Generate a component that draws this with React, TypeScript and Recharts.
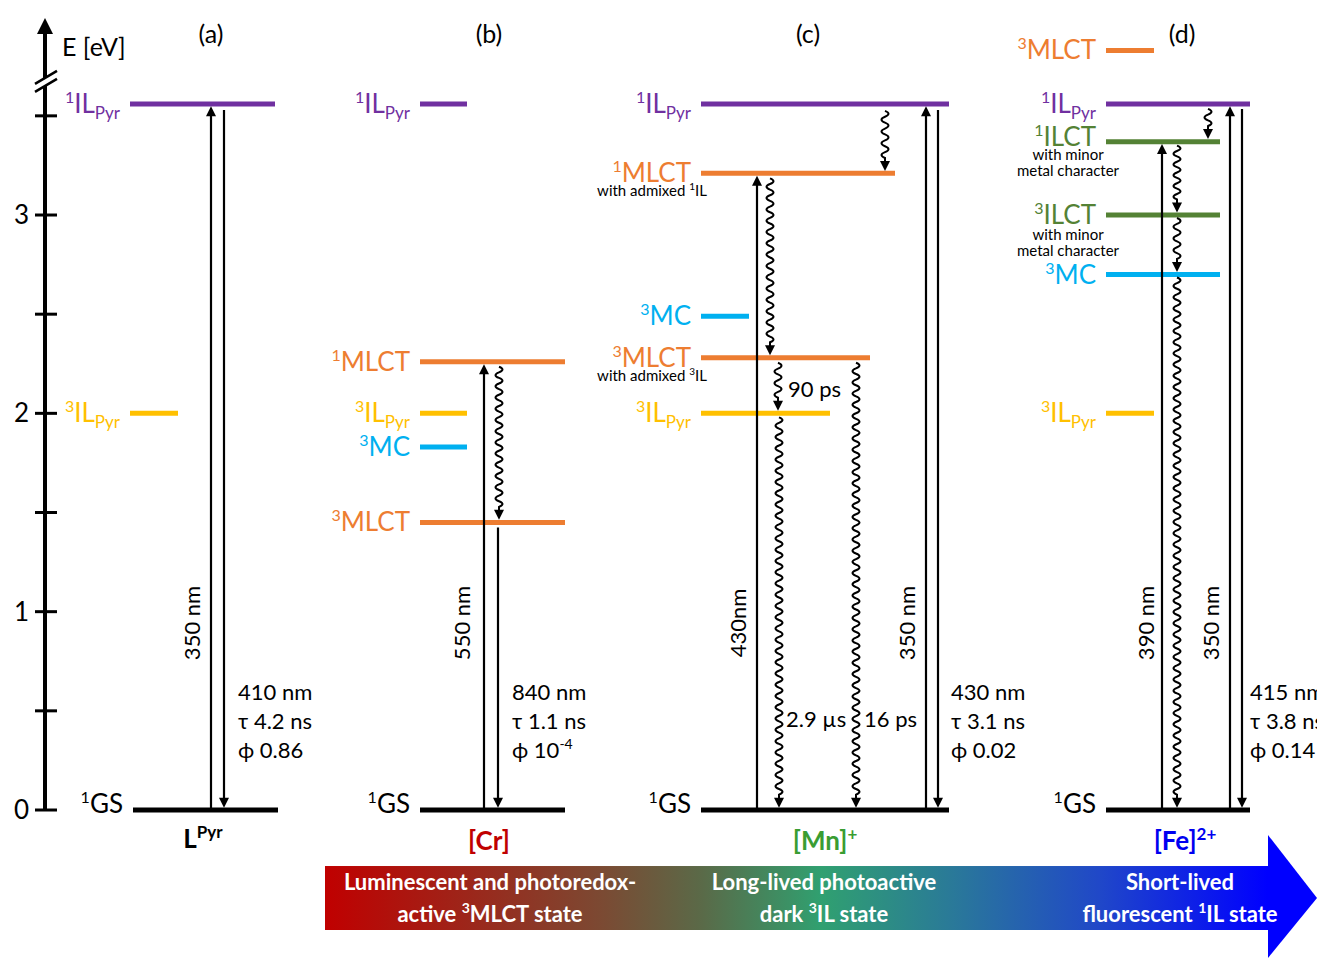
import React from "react";
import { ComposedChart, XAxis, YAxis, ReferenceLine, ReferenceArea, Scatter } from "recharts";

const FONT = "Lato, 'Open Sans', 'DejaVu Sans', sans-serif";

// ---------- DATA (x: horizontal diagram units from the energy axis, y: energy in eV) ----------
const levelsA = [
  { state: "1IL", y: 3.56, x: 85, x2: 230 },
  { state: "3IL", y: 2.0, x: 85, x2: 133 },
  { state: "GS", y: 0, x: 88, x2: 233 },
];
const levelsB = [
  { state: "1IL", y: 3.56, x: 375, x2: 422 },
  { state: "1MLCT", y: 2.26, x: 375, x2: 520 },
  { state: "3IL", y: 2.0, x: 375, x2: 422 },
  { state: "3MC", y: 1.83, x: 375, x2: 422 },
  { state: "3MLCT", y: 1.45, x: 375, x2: 520 },
  { state: "GS", y: 0, x: 375, x2: 520 },
];
const levelsC = [
  { state: "1IL", y: 3.56, x: 656, x2: 904 },
  { state: "1MLCT", y: 3.21, x: 656, x2: 850, note: "admix1" },
  { state: "3MC", y: 2.49, x: 656, x2: 704 },
  { state: "3MLCT", y: 2.28, x: 656, x2: 825, note: "admix3" },
  { state: "3IL", y: 2.0, x: 656, x2: 785 },
  { state: "GS", y: 0, x: 656, x2: 904 },
];
const levelsD = [
  { state: "3MLCT", y: 3.83, x: 1061, x2: 1109 },
  { state: "1IL", y: 3.56, x: 1061, x2: 1205 },
  { state: "1ILCT", y: 3.37, x: 1061, x2: 1175, note: "metal" },
  { state: "3ILCT", y: 3.0, x: 1061, x2: 1175, note: "metal" },
  { state: "3MC", y: 2.7, x: 1061, x2: 1175 },
  { state: "3IL", y: 2.0, x: 1061, x2: 1109 },
  { state: "GS", y: 0, x: 1061, x2: 1205 },
];

const arrowsA = [
  { kind: "up", x: 166, from: 0, to: 3.548 },
  { kind: "down", x: 179, from: 3.53, to: 0.012 },
];
const arrowsB = [
  { kind: "up", x: 439, from: 0, to: 2.248 },
  { kind: "wavy", x: 454, from: 2.235, to: 1.463 },
  { kind: "down", x: 453, from: 1.425, to: 0.012 },
];
const arrowsC = [
  { kind: "wavy", x: 840, from: 3.525, to: 3.222 },
  { kind: "up", x: 712, from: 0, to: 3.198 },
  { kind: "wavy", x: 725, from: 3.185, to: 2.293 },
  { kind: "wavy", x: 733, from: 2.255, to: 2.013 },
  { kind: "wavy", x: 734, from: 1.98, to: 0.012 },
  { kind: "wavy", x: 811, from: 2.255, to: 0.012 },
  { kind: "up", x: 881, from: 0, to: 3.548 },
  { kind: "down", x: 893, from: 3.53, to: 0.012 },
];
const arrowsD = [
  { kind: "up", x: 1117, from: 0, to: 3.358 },
  { kind: "wavy", x: 1163, from: 3.535, to: 3.383 },
  { kind: "wavy", x: 1132, from: 3.35, to: 3.013 },
  { kind: "wavy", x: 1132, from: 2.985, to: 2.713 },
  { kind: "wavy", x: 1132, from: 2.685, to: 0.012 },
  { kind: "up", x: 1185, from: 0, to: 3.548 },
  { kind: "down", x: 1197, from: 3.535, to: 0.012 },
];

const energyTicks = [0, 0.5, 1, 1.5, 2, 2.5, 3, 3.5];
const axisTitle = [{ x: 17, y: 3.8, text: "E [eV]" }];
const panelTitles = [
  { x: 166, y: 3.867, text: "(a)" },
  { x: 444, y: 3.867, text: "(b)" },
  { x: 763, y: 3.867, text: "(c)" },
  { x: 1137, y: 3.867, text: "(d)" },
];
const compounds = [
  { x: 158, y: -0.19, name: "L", parts: ["L", "^Pyr"] },
  { x: 444, y: -0.2, name: "Cr", parts: ["[Cr]"] },
  { x: 780, y: -0.2, name: "Mn", parts: ["[Mn]", "^+"] },
  { x: 1140, y: -0.2, name: "Fe", parts: ["[Fe]", "^2+"] },
];
const excitation = [
  { x: 147, y: 0.943, text: "350 nm" },
  { x: 417, y: 0.943, text: "550 nm" },
  { x: 693, y: 0.943, text: "430nm" },
  { x: 862, y: 0.943, text: "350 nm" },
  { x: 1101, y: 0.943, text: "390 nm" },
  { x: 1166, y: 0.943, text: "350 nm" },
];
const emission = [
  { x: 193, y: 0.555, lines: [["410 nm"], ["τ 4.2 ns"], ["ϕ 0.86"]] },
  { x: 467, y: 0.555, lines: [["840 nm"], ["τ 1.1 ns"], ["ϕ 10", "^-4"]] },
  { x: 906, y: 0.555, lines: [["430 nm"], ["τ 3.1 ns"], ["ϕ 0.02"]] },
  { x: 1205, y: 0.555, lines: [["415 nm"], ["τ 3.8 ns"], ["ϕ 0.14"]] },
];
const lifetimes = [
  { x: 743, y: 2.082, text: "90 ps" },
  { x: 741, y: 0.4185, text: "2.9 µs" },
  { x: 819, y: 0.4185, text: "16 ps" },
];
const bannerSpan = { x1: 280, x2: 1223, y1: -0.605, y2: -0.2824 };
const bannerText = [
  { x: 445, y: -0.4034, parts: ["Luminescent and photoredox-"] },
  { x: 445, y: -0.5647, parts: ["active ", "^3", "MLCT state"] },
  { x: 779, y: -0.4034, parts: ["Long-lived photoactive"] },
  { x: 779, y: -0.5647, parts: ["dark ", "^3", "IL state"] },
  { x: 1135, y: -0.4034, parts: ["Short-lived"] },
  { x: 1135, y: -0.5647, parts: ["fluorescent ", "^1", "IL state"] },
];

// ---------- STYLES ----------
const STATE_COLOR: Record<string, string> = {
  "1IL": "#7030A0",
  "3IL": "#FFC000",
  "1MLCT": "#ED7D31",
  "3MLCT": "#ED7D31",
  "3MC": "#00B0F0",
  "1ILCT": "#548235",
  "3ILCT": "#548235",
  GS: "#000000",
};
const STATE_PARTS: Record<string, string[]> = {
  "1IL": ["^1", "IL", "_Pyr"],
  "3IL": ["^3", "IL", "_Pyr"],
  "1MLCT": ["^1", "MLCT"],
  "3MLCT": ["^3", "MLCT"],
  "3MC": ["^3", "MC"],
  "1ILCT": ["^1", "ILCT"],
  "3ILCT": ["^3", "ILCT"],
  GS: ["^1", "GS"],
};
const NOTE_LINES: Record<string, string[][]> = {
  admix1: [["with admixed ", "^1", "IL"]],
  admix3: [["with admixed ", "^3", "IL"]],
  metal: [["with minor"], ["metal character"]],
};
const COMPOUND_COLOR: Record<string, string> = { L: "#000000", Cr: "#C00000", Mn: "#3A9D32", Fe: "#0000F0" };

const AXIS_TOP = 3.993;
const AXIS_BREAK = 3.676;

function rich(parts: string[], size: number, supSize: number, subSize: number, supDy: number, subDy: number) {
  let cur = 0;
  return parts.map((p, i) => {
    const kind = p[0] === "^" ? "sup" : p[0] === "_" ? "sub" : "n";
    const t = kind === "n" ? p : p.slice(1);
    const target = kind === "sup" ? supDy : kind === "sub" ? subDy : 0;
    const dy = target - cur;
    cur = target;
    return (
      <tspan key={i} dy={dy} fontSize={kind === "sup" ? supSize : kind === "sub" ? subSize : size}>
        {t}
      </tspan>
    );
  });
}

const AxisTick = (p: any) => {
  const { x, y, payload } = p;
  const v = payload.value;
  return (
    <g>
      <line x1={x - 10} x2={x + 12} y1={y} y2={y} stroke="#000" strokeWidth={3} />
      {Number.isInteger(v) ? (
        <text x={x - 16} y={y + 9} textAnchor="end" fontSize={26} fontFamily={FONT} fill="#000">
          {v}
        </text>
      ) : null}
    </g>
  );
};

const EnergyAxis = (p: any) => {
  const { x1, y1, y2 } = p;
  const yb = y1 + (y2 - y1) * (AXIS_BREAK / AXIS_TOP);
  return (
    <g>
      <line x1={x1} x2={x1} y1={y1 + 1} y2={y2 + 14} stroke="#000" strokeWidth={4} />
      <polygon points={`${x1},${y2} ${x1 - 8},${y2 + 16} ${x1 + 8},${y2 + 16}`} fill="#000" />
      <polygon points={`${x1 - 9},${yb + 3} ${x1 + 11},${yb - 9} ${x1 + 11},${yb - 1} ${x1 - 9},${yb + 11}`} fill="#fff" />
      <line x1={x1 - 10} y1={yb + 3} x2={x1 + 12} y2={yb - 10} stroke="#000" strokeWidth={2.5} />
      <line x1={x1 - 10} y1={yb + 11} x2={x1 + 12} y2={yb - 2} stroke="#000" strokeWidth={2.5} />
    </g>
  );
};

const ArrowShape = (p: any) => {
  const { x1, y1, y2, kind } = p;
  const dir = y2 > y1 ? 1 : -1;
  const head = 10;
  const hw = 5;
  const baseY = y2 - dir * head;
  let stem;
  if (kind === "wavy") {
    const L = Math.abs(baseY - y1) - 3;
    const n = Math.max(2, Math.round(L / 5.6));
    const h = L / n;
    let d = `M ${x1} ${y1}`;
    for (let i = 0; i < n; i++) {
      const ya = y1 + dir * h * i;
      const side = i % 2 === 0 ? 1 : -1;
      d += ` Q ${x1 + side * 7} ${ya + (dir * h) / 2} ${x1} ${ya + dir * h}`;
    }
    d += ` L ${x1} ${baseY + dir * 1}`;
    stem = <path d={d} fill="none" stroke="#000" strokeWidth={2} />;
  } else {
    stem = <line x1={x1} x2={x1} y1={y1} y2={baseY + dir * 1} stroke="#000" strokeWidth={2.2} />;
  }
  return (
    <g>
      {stem}
      <polygon points={`${x1},${y2} ${x1 - hw},${baseY} ${x1 + hw},${baseY}`} fill="#000" />
    </g>
  );
};

const LevelLabel = (p: any) => {
  const { cx, cy, payload } = p;
  if (cx == null || cy == null) return null;
  const st = payload.state;
  const color = STATE_COLOR[st];
  const mainDy = st === "GS" ? 3 : st === "1ILCT" ? 4 : 9;
  const noteDy = st === "1ILCT" ? [18, 34] : st === "3ILCT" ? [25, 41] : [23, 39];
  const noteX = payload.note === "metal" ? cx - 38 : cx - 49;
  const notes = payload.note ? NOTE_LINES[payload.note] : [];
  return (
    <g>
      <text x={cx - 10} y={cy + mainDy} textAnchor="end" fontFamily={FONT} fontSize={26} fill={color}>
        {rich(STATE_PARTS[st], 26, 16, 17, -10, 6)}
      </text>
      {notes.map((ln, i) => (
        <text key={i} x={noteX} y={cy + noteDy[i]} textAnchor="middle" fontFamily={FONT} fontSize={15} fill="#000">
          {rich(ln, 15, 10, 10, -6, 3)}
        </text>
      ))}
    </g>
  );
};

const TitleText = (p: any) => (
  <text x={p.cx} y={p.cy} textAnchor="middle" fontFamily={FONT} fontSize={25} fill="#000">
    {p.payload.text}
  </text>
);
const AxisTitleText = (p: any) => (
  <text x={p.cx} y={p.cy} textAnchor="start" fontFamily={FONT} fontSize={25} fill="#000">
    {p.payload.text}
  </text>
);
const CompoundText = (p: any) => (
  <text x={p.cx} y={p.cy} textAnchor="middle" fontFamily={FONT} fontSize={26} fontWeight="bold" fill={COMPOUND_COLOR[p.payload.name]}>
    {rich(p.payload.parts, 26, 17, 17, -10, 6)}
  </text>
);
const RotText = (p: any) => (
  <text
    x={p.cx}
    y={p.cy}
    transform={`rotate(-90 ${p.cx} ${p.cy})`}
    textAnchor="middle"
    dominantBaseline="central"
    fontFamily={FONT}
    fontSize={22}
    fill="#000"
  >
    {p.payload.text}
  </text>
);
const EmissionText = (p: any) => (
  <g>
    {p.payload.lines.map((ln: string[], i: number) => (
      <text key={i} x={p.cx} y={p.cy + i * 29} fontFamily={FONT} fontSize={22} fill="#000">
        {rich(ln, 22, 14, 14, -9, 5)}
      </text>
    ))}
  </g>
);
const PlainText = (p: any) => (
  <text x={p.cx} y={p.cy} fontFamily={FONT} fontSize={22} fill="#000">
    {p.payload.text}
  </text>
);
const BannerText = (p: any) => (
  <text x={p.cx} y={p.cy} textAnchor="middle" fontFamily={FONT} fontSize={22} fontWeight="bold" fill="#fff">
    {rich(p.payload.parts, 22, 14, 14, -9, 4)}
  </text>
);

const Banner = (p: any) => {
  const { x, y, width, height } = p;
  const tipX = x + width + 49;
  return (
    <g>
      <defs>
        <linearGradient id="bannerGrad" gradientUnits="userSpaceOnUse" x1={x} y1={0} x2={tipX} y2={0}>
          <stop offset="0" stopColor="#C00000" />
          <stop offset="0.28" stopColor="#7B4A33" />
          <stop offset="0.38" stopColor="#5A6A48" />
          <stop offset="0.5" stopColor="#30A070" />
          <stop offset="0.63" stopColor="#2A7A98" />
          <stop offset="0.78" stopColor="#2048C8" />
          <stop offset="0.95" stopColor="#0000FF" />
          <stop offset="1" stopColor="#0000FF" />
        </linearGradient>
      </defs>
      <rect x={x} y={y} width={width} height={height} fill="url(#bannerGrad)" />
      <polygon points={`${x + width},${y - 31} ${tipX},${y + height / 2} ${x + width},${y + height + 28}`} fill="#0000FF" />
    </g>
  );
};

const allLevels = [...levelsA, ...levelsB, ...levelsC, ...levelsD];
const allArrows = [...arrowsA, ...arrowsB, ...arrowsC, ...arrowsD];

export default function App() {
  return (
    <div style={{ width: 1317, height: 958 }}>
      <style>{`body{margin:0}`}</style>
      <ComposedChart width={1317} height={958} margin={{ top: 0, right: 0, bottom: 0, left: 0 }}>
        <XAxis type="number" dataKey="x" domain={[0, 1272]} allowDataOverflow hide />
        <YAxis
          type="number"
          dataKey="y"
          domain={[-0.7462, 4.0841]}
          allowDataOverflow
          width={45}
          ticks={energyTicks}
          interval={0}
          axisLine={false}
          tickLine={false}
          tickSize={0}
          tickMargin={0}
          tick={AxisTick}
        />
        <ReferenceArea
          x1={bannerSpan.x1}
          x2={bannerSpan.x2}
          y1={bannerSpan.y1}
          y2={bannerSpan.y2}
          ifOverflow="visible"
          shape={Banner}
        />
        <ReferenceLine
          segment={[{ x: 0, y: 0 }, { x: 0, y: AXIS_TOP }]}
          ifOverflow="visible"
          shape={EnergyAxis}
        />
        {allLevels.map((l, i) => (
          <ReferenceLine
            key={`lv${i}`}
            segment={[{ x: l.x, y: l.y }, { x: l.x2, y: l.y }]}
            stroke={STATE_COLOR[l.state]}
            strokeWidth={5}
            ifOverflow="visible"
          />
        ))}
        {allArrows.map((a, i) => (
          <ReferenceLine
            key={`ar${i}`}
            segment={[{ x: a.x, y: a.from }, { x: a.x, y: a.to }]}
            ifOverflow="visible"
            shape={(p: any) => <ArrowShape {...p} kind={a.kind} />}
          />
        ))}
        <Scatter data={allLevels} shape={LevelLabel} isAnimationActive={false} />
        <Scatter data={axisTitle} shape={AxisTitleText} isAnimationActive={false} />
        <Scatter data={panelTitles} shape={TitleText} isAnimationActive={false} />
        <Scatter data={compounds} shape={CompoundText} isAnimationActive={false} />
        <Scatter data={excitation} shape={RotText} isAnimationActive={false} />
        <Scatter data={emission} shape={EmissionText} isAnimationActive={false} />
        <Scatter data={lifetimes} shape={PlainText} isAnimationActive={false} />
        <Scatter data={bannerText} shape={BannerText} isAnimationActive={false} />
      </ComposedChart>
    </div>
  );
}
